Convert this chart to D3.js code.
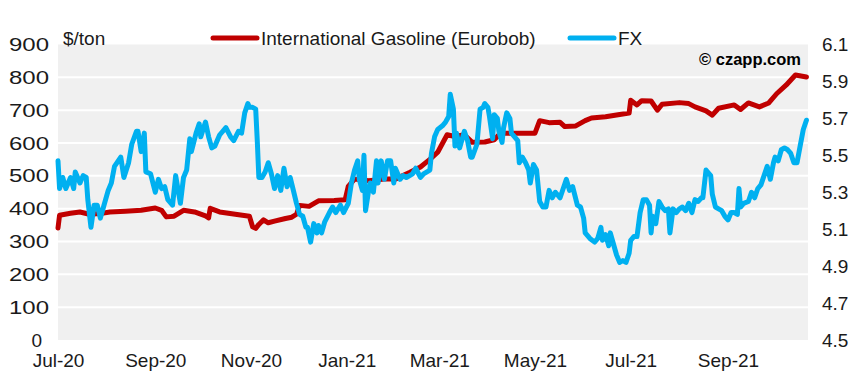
<!DOCTYPE html>
<html>
<head>
<meta charset="utf-8">
<script src="https://cdn.jsdelivr.net/npm/d3@7"></script>
<style>
  html, body { margin: 0; padding: 0; background: #ffffff; }
  svg { display: block; font-family: "Liberation Sans", Arial, sans-serif; }
</style>
</head>
<body>
<svg id="chart" width="860" height="384"></svg>
<script>
// ---------------- DATA ----------------
const leftTicks = [0, 100, 200, 300, 400, 500, 600, 700, 800, 900];
const rightTicks = [4.5, 4.7, 4.9, 5.1, 5.3, 5.5, 5.7, 5.9, 6.1];
const xTicks = ["2020-07-01", "2020-09-01", "2020-11-01", "2021-01-01", "2021-03-01", "2021-05-01", "2021-07-01", "2021-09-01"];
const xDomain = ["2020-07-01", "2021-10-22"];
const seriesNames = ["International Gasoline (Eurobob)", "FX"];
const unitLabel = "$/ton";
const credit = "\u00A9 czapp.com";

// International Gasoline (Eurobob), $/ton (left axis)
const gasoline = [
  ["2020-07-01",341],["2020-07-02",380],["2020-07-09",386],["2020-07-15",390],["2020-07-21",383],
  ["2020-07-28",385],["2020-08-03",390],["2020-08-13",392],["2020-08-23",395],["2020-09-01",402],
  ["2020-09-05",395],["2020-09-08",375],["2020-09-13",377],["2020-09-19",395],["2020-09-26",390],
  ["2020-10-03",378],["2020-10-05",372],["2020-10-06",401],["2020-10-12",390],["2020-10-22",383],
  ["2020-10-31",377],["2020-11-02",345],["2020-11-04",340],["2020-11-06",352],["2020-11-09",366],
  ["2020-11-12",357],["2020-11-16",362],["2020-11-23",370],["2020-11-27",374],["2020-11-30",383],
  ["2020-12-02",410],["2020-12-08",407],["2020-12-14",424],["2020-12-24",425],["2020-12-31",427],
  ["2021-01-02",468],["2021-01-06",490],["2021-01-15",485],["2021-01-25",490],["2021-02-01",490],
  ["2021-02-10",510],["2021-02-17",527],["2021-02-23",550],["2021-02-28",572],["2021-03-06",625],
  ["2021-03-11",620],["2021-03-17",625],["2021-03-22",602],["2021-03-30",603],["2021-04-05",610],
  ["2021-04-09",630],["2021-04-18",630],["2021-05-01",630],["2021-05-04",668],["2021-05-10",662],
  ["2021-05-17",663],["2021-05-20",650],["2021-05-27",652],["2021-06-02",668],["2021-06-06",676],
  ["2021-06-15",680],["2021-06-24",687],["2021-06-30",691],["2021-07-01",730],["2021-07-05",716],
  ["2021-07-08",729],["2021-07-14",728],["2021-07-18",700],["2021-07-21",718],["2021-08-01",723],
  ["2021-08-07",720],["2021-08-11",710],["2021-08-18",698],["2021-08-22",685],["2021-08-26",706],
  ["2021-09-05",716],["2021-09-09",702],["2021-09-14",722],["2021-09-21",710],["2021-09-27",722],
  ["2021-10-02",750],["2021-10-08",776],["2021-10-14",807],["2021-10-21",801]
];

// FX (right axis)
const fx = [
  ["2020-07-01",5.47],["2020-07-02",5.32],["2020-07-04",5.38],["2020-07-06",5.32],["2020-07-09",5.38],
  ["2020-07-11",5.32],["2020-07-12",5.41],["2020-07-15",5.35],["2020-07-17",5.39],["2020-07-19",5.38],
  ["2020-07-20",5.26],["2020-07-22",5.11],["2020-07-24",5.23],["2020-07-26",5.23],["2020-07-28",5.16],
  ["2020-07-30",5.22],["2020-08-02",5.31],["2020-08-04",5.35],["2020-08-06",5.44],["2020-08-10",5.49],
  ["2020-08-12",5.38],["2020-08-15",5.46],["2020-08-17",5.56],["2020-08-20",5.63],["2020-08-21",5.63],
  ["2020-08-23",5.52],["2020-08-25",5.62],["2020-08-26",5.41],["2020-08-29",5.40],["2020-09-01",5.30],
  ["2020-09-03",5.37],["2020-09-05",5.32],["2020-09-07",5.33],["2020-09-09",5.26],["2020-09-12",5.23],
  ["2020-09-14",5.39],["2020-09-17",5.24],["2020-09-19",5.38],["2020-09-21",5.42],["2020-09-23",5.59],
  ["2020-09-24",5.52],["2020-09-27",5.62],["2020-09-29",5.67],["2020-09-30",5.60],["2020-10-03",5.68],
  ["2020-10-05",5.60],["2020-10-07",5.54],["2020-10-09",5.55],["2020-10-12",5.61],["2020-10-16",5.65],
  ["2020-10-19",5.60],["2020-10-21",5.58],["2020-10-24",5.63],["2020-10-26",5.62],["2020-10-28",5.73],
  ["2020-10-30",5.78],["2020-10-31",5.76],["2020-11-02",5.76],["2020-11-04",5.75],["2020-11-05",5.58],
  ["2020-11-06",5.38],["2020-11-08",5.38],["2020-11-10",5.41],["2020-11-12",5.46],["2020-11-14",5.40],
  ["2020-11-16",5.32],["2020-11-18",5.39],["2020-11-20",5.31],["2020-11-22",5.43],["2020-11-24",5.33],
  ["2020-11-26",5.38],["2020-11-28",5.31],["2020-11-30",5.24],["2020-12-02",5.18],["2020-12-04",5.17],
  ["2020-12-06",5.11],["2020-12-07",5.11],["2020-12-09",5.03],["2020-12-11",5.13],["2020-12-13",5.08],
  ["2020-12-14",5.12],["2020-12-16",5.08],["2020-12-18",5.14],["2020-12-21",5.19],["2020-12-23",5.22],
  ["2020-12-25",5.19],["2020-12-28",5.23],["2020-12-30",5.19],["2021-01-02",5.24],["2021-01-04",5.35],
  ["2021-01-06",5.42],["2021-01-08",5.47],["2021-01-09",5.37],["2021-01-11",5.31],["2021-01-12",5.50],
  ["2021-01-13",5.20],["2021-01-15",5.31],["2021-01-16",5.35],["2021-01-18",5.30],["2021-01-20",5.47],
  ["2021-01-21",5.35],["2021-01-23",5.47],["2021-01-25",5.37],["2021-01-27",5.47],["2021-01-29",5.47],
  ["2021-01-31",5.35],["2021-02-01",5.43],["2021-02-04",5.37],["2021-02-06",5.39],["2021-02-08",5.38],
  ["2021-02-12",5.40],["2021-02-14",5.43],["2021-02-17",5.38],["2021-02-19",5.40],["2021-02-23",5.42],
  ["2021-02-24",5.51],["2021-02-26",5.60],["2021-02-28",5.64],["2021-03-03",5.66],["2021-03-05",5.68],
  ["2021-03-07",5.71],["2021-03-08",5.83],["2021-03-10",5.75],["2021-03-11",5.55],["2021-03-12",5.62],
  ["2021-03-14",5.54],["2021-03-16",5.60],["2021-03-17",5.63],["2021-03-19",5.58],["2021-03-21",5.49],
  ["2021-03-22",5.49],["2021-03-25",5.56],["2021-03-27",5.75],["2021-03-29",5.76],["2021-03-30",5.78],
  ["2021-04-01",5.76],["2021-04-02",5.71],["2021-04-04",5.59],["2021-04-05",5.72],["2021-04-07",5.70],
  ["2021-04-08",5.63],["2021-04-10",5.57],["2021-04-11",5.65],["2021-04-13",5.73],["2021-04-15",5.70],
  ["2021-04-16",5.62],["2021-04-18",5.60],["2021-04-20",5.58],["2021-04-21",5.46],["2021-04-23",5.49],
  ["2021-04-25",5.46],["2021-04-27",5.42],["2021-04-28",5.35],["2021-04-30",5.45],["2021-05-02",5.42],
  ["2021-05-04",5.25],["2021-05-06",5.22],["2021-05-08",5.22],["2021-05-10",5.31],["2021-05-12",5.27],
  ["2021-05-14",5.30],["2021-05-17",5.27],["2021-05-19",5.32],["2021-05-21",5.37],["2021-05-23",5.31],
  ["2021-05-25",5.33],["2021-05-28",5.23],["2021-05-30",5.22],["2021-06-01",5.16],["2021-06-02",5.08],
  ["2021-06-05",5.05],["2021-06-08",5.03],["2021-06-10",5.05],["2021-06-12",5.11],["2021-06-13",5.04],
  ["2021-06-15",5.07],["2021-06-17",5.01],["2021-06-18",5.08],["2021-06-20",5.02],["2021-06-22",4.96],
  ["2021-06-24",4.92],["2021-06-26",4.93],["2021-06-28",4.92],["2021-06-30",4.97],["2021-07-01",5.04],
  ["2021-07-03",5.06],["2021-07-05",5.06],["2021-07-07",5.19],["2021-07-09",5.26],["2021-07-11",5.26],
  ["2021-07-13",5.23],["2021-07-14",5.08],["2021-07-15",5.17],["2021-07-17",5.13],["2021-07-19",5.25],
  ["2021-07-21",5.22],["2021-07-23",5.20],["2021-07-25",5.21],["2021-07-26",5.08],["2021-07-28",5.21],
  ["2021-07-30",5.19],["2021-08-01",5.21],["2021-08-03",5.22],["2021-08-05",5.20],["2021-08-07",5.24],
  ["2021-08-09",5.19],["2021-08-11",5.26],["2021-08-13",5.25],["2021-08-15",5.27],["2021-08-16",5.27],
  ["2021-08-18",5.42],["2021-08-20",5.40],["2021-08-21",5.39],["2021-08-22",5.29],["2021-08-24",5.22],
  ["2021-08-26",5.21],["2021-08-28",5.20],["2021-08-30",5.17],["2021-09-01",5.15],["2021-09-03",5.19],
  ["2021-09-05",5.19],["2021-09-07",5.18],["2021-09-08",5.32],["2021-09-09",5.22],["2021-09-11",5.24],
  ["2021-09-14",5.25],["2021-09-16",5.30],["2021-09-18",5.27],["2021-09-20",5.32],["2021-09-22",5.34],
  ["2021-09-24",5.39],["2021-09-26",5.44],["2021-09-28",5.37],["2021-09-30",5.46],["2021-10-01",5.49],
  ["2021-10-03",5.47],["2021-10-05",5.53],["2021-10-07",5.54],["2021-10-09",5.53],["2021-10-11",5.51],
  ["2021-10-13",5.46],["2021-10-15",5.46],["2021-10-17",5.55],["2021-10-19",5.64],["2021-10-21",5.69]
];

// ---------------- CHART ----------------
const parse = d3.utcParse("%Y-%m-%d");
const svg = d3.select("#chart");
const plot = { left: 58, right: 808, top: 44.5, bottom: 340 };
const colors = { gas: "#c00000", fx: "#00b0f0", bg: "#f0f0f0" };

const x = d3.scaleUtc().domain(xDomain.map(parse)).range([plot.left, plot.right]);
const yL = d3.scaleLinear().domain([0, 900]).range([plot.bottom, plot.top]);
const yR = d3.scaleLinear().domain([4.5, 6.1]).range([plot.bottom, plot.top]);

svg.append("rect")
  .attr("x", plot.left).attr("y", plot.top)
  .attr("width", plot.right - plot.left).attr("height", plot.bottom - plot.top)
  .attr("fill", colors.bg);

svg.append("g").selectAll("line")
  .data(leftTicks.filter(d => d > 0 && d < 900))
  .join("line")
  .attr("x1", plot.left).attr("x2", plot.right)
  .attr("y1", d => yL(d)).attr("y2", d => yL(d))
  .attr("stroke", "#ffffff").attr("stroke-width", 2);

// left axis (labels in the reference are drawn wide)
const axL = svg.append("g").attr("transform", `translate(${plot.left},0)`)
  .call(d3.axisLeft(yL).tickValues(leftTicks).tickSize(0).tickPadding(9).tickFormat(d3.format("d")));
axL.select(".domain").remove();
axL.selectAll("text").attr("font-size", 19).attr("fill", "#1a1a1a")
  .attr("font-family", "Liberation Sans, Arial, sans-serif")
  .each(function(d) {
    const t = d3.select(this);
    if (d === 0) {
      t.attr("x", -16);
    } else {
      t.attr("textLength", 40).attr("lengthAdjust", "spacingAndGlyphs");
    }
  });

const axR = svg.append("g").attr("transform", `translate(${plot.right},0)`)
  .call(d3.axisRight(yR).tickValues(rightTicks).tickSize(0).tickPadding(14).tickFormat(d3.format(".1f")));
axR.select(".domain").remove();
axR.selectAll("text").attr("font-size", 19).attr("fill", "#1a1a1a")
  .attr("font-family", "Liberation Sans, Arial, sans-serif");

const axB = svg.append("g").attr("transform", `translate(0,${plot.bottom})`)
  .call(d3.axisBottom(x).tickValues(xTicks.map(parse)).tickSize(0).tickPadding(14).tickFormat(d3.utcFormat("%b-%y")));
axB.select(".domain").remove();
axB.selectAll("text").attr("font-size", 19).attr("fill", "#1a1a1a")
  .attr("font-family", "Liberation Sans, Arial, sans-serif");

const lineGas = d3.line().x(d => x(parse(d[0]))).y(d => yL(d[1]));
const lineFx = d3.line().x(d => x(parse(d[0]))).y(d => yR(d[1]));

svg.append("path").datum(gasoline).attr("d", lineGas)
  .attr("fill", "none").attr("stroke", colors.gas).attr("stroke-width", 5)
  .attr("stroke-linejoin", "round").attr("stroke-linecap", "round");
svg.append("path").datum(fx).attr("d", lineFx)
  .attr("fill", "none").attr("stroke", colors.fx).attr("stroke-width", 5)
  .attr("stroke-linejoin", "round").attr("stroke-linecap", "round");

svg.append("text").attr("x", 63).attr("y", 45).attr("font-size", 19).attr("fill", "#1a1a1a").text(unitLabel);

const legend = svg.append("g");
const legItems = [
  { name: seriesNames[0], color: colors.gas, x0: 213 },
  { name: seriesNames[1], color: colors.fx, x0: 570 }
];
legItems.forEach(it => {
  legend.append("line").attr("x1", it.x0).attr("x2", it.x0 + 44).attr("y1", 38).attr("y2", 38)
    .attr("stroke", it.color).attr("stroke-width", 5).attr("stroke-linecap", "round");
  legend.append("text").attr("x", it.x0 + 48).attr("y", 45).attr("font-size", 19).attr("fill", "#1a1a1a").text(it.name);
});

svg.append("text").attr("x", 801).attr("y", 65).attr("text-anchor", "end")
  .attr("font-size", 16.5).attr("font-weight", "bold").attr("fill", "#000").text(credit);
</script>
</body>
</html>
